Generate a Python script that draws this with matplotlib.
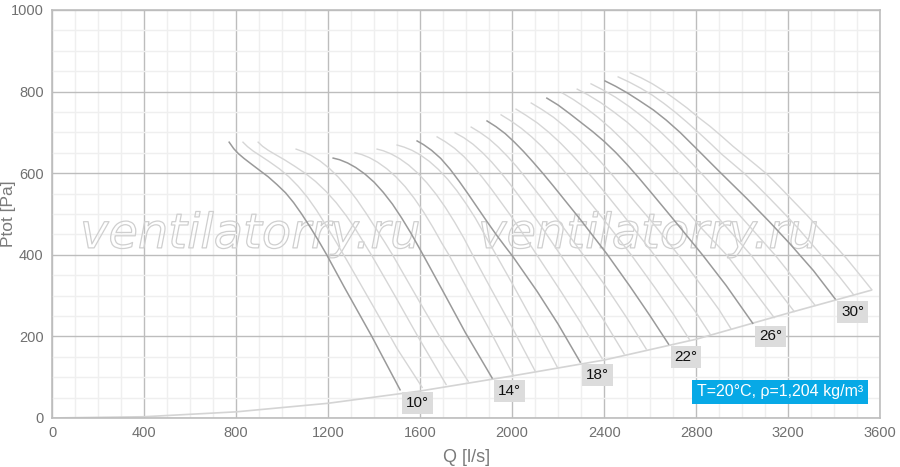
import matplotlib.pyplot as plt
import matplotlib.patheffects as pe
from matplotlib.ticker import MultipleLocator

plt.rcParams["font.family"] = ["Liberation Sans", "DejaVu Sans"]

# blade angle of each characteristic, in degrees
angles = list(range(10, 33))
labelled = [10, 14, 18, 22, 26, 30]

# one list per curve (Q in l/s, Ptot in Pa)
curve_q = [
    [770, 790, 810, 835, 865, 900, 940, 978, 1015, 1050, 1085, 1122, 1160, 1194, 1270, 1390, 1513],
    [830, 850, 875, 905, 945, 990, 1030, 1070, 1110, 1150, 1190, 1230, 1280, 1400, 1500, 1609],
    [896, 915, 940, 970, 1010, 1055, 1100, 1145, 1190, 1235, 1280, 1320, 1355, 1390, 1490, 1590, 1713],
    [1061, 1090, 1125, 1165, 1205, 1245, 1285, 1325, 1365, 1405, 1445, 1480, 1590, 1690, 1809],
    [1222, 1250, 1285, 1320, 1360, 1400, 1440, 1480, 1520, 1560, 1600, 1640, 1700, 1796, 1913],
    [1317, 1345, 1380, 1415, 1455, 1495, 1535, 1575, 1615, 1655, 1695, 1725, 1800, 1900, 2004],
    [1413, 1440, 1475, 1510, 1550, 1590, 1630, 1670, 1710, 1750, 1790, 1828, 1900, 2000, 2100],
    [1500, 1530, 1565, 1600, 1640, 1680, 1720, 1760, 1800, 1840, 1880, 1915, 2000, 2100, 2196],
    [1587, 1615, 1650, 1690, 1730, 1770, 1810, 1850, 1890, 1930, 1970, 2004, 2109, 2200, 2296],
    [1674, 1710, 1750, 1790, 1830, 1870, 1910, 1950, 1990, 2030, 2107, 2210, 2300, 2391],
    [1752, 1790, 1830, 1870, 1910, 1950, 1990, 2030, 2070, 2110, 2150, 2210, 2310, 2400, 2487],
    [1822, 1860, 1900, 1940, 1980, 2020, 2060, 2100, 2140, 2180, 2220, 2315, 2415, 2500, 2583],
    [1891, 1930, 1970, 2010, 2050, 2090, 2136, 2180, 2220, 2260, 2300, 2412, 2513, 2600, 2680],
    [1952, 1995, 2040, 2085, 2130, 2175, 2220, 2265, 2310, 2355, 2410, 2520, 2620, 2700, 2770],
    [2017, 2060, 2110, 2160, 2210, 2260, 2310, 2360, 2410, 2460, 2510, 2620, 2720, 2800, 2861],
    [2083, 2130, 2180, 2230, 2280, 2330, 2380, 2430, 2480, 2530, 2600, 2725, 2825, 2900, 2952],
    [2151, 2200, 2250, 2300, 2350, 2400, 2450, 2500, 2550, 2614, 2670, 2730, 2830, 2930, 3046],
    [2217, 2265, 2320, 2375, 2430, 2485, 2540, 2595, 2650, 2720, 2820, 2935, 3040, 3139],
    [2283, 2330, 2385, 2440, 2500, 2560, 2620, 2680, 2740, 2820, 2920, 3040, 3135, 3226],
    [2343, 2395, 2450, 2510, 2570, 2640, 2710, 2780, 2850, 2920, 3030, 3145, 3230, 3317],
    [2404, 2450, 2500, 2550, 2614, 2670, 2730, 2807, 2860, 2908, 3020, 3120, 3209, 3310, 3404],
    [2461, 2510, 2560, 2610, 2660, 2710, 2760, 2810, 2860, 2910, 2960, 3008, 3060, 3120, 3180,
     3240, 3300, 3350, 3420, 3483],
    [2513, 2560, 2610, 2658, 2710, 2760, 2807, 2860, 2910, 2960, 3010, 3060, 3107, 3160, 3220,
     3280, 3339, 3400, 3455, 3510, 3564],
]
curve_p = [
    [676, 660, 648, 636, 623, 608, 591, 572, 552, 528, 500, 468, 433, 400, 321, 200, 69],
    [676, 665, 654, 643, 628, 610, 591, 568, 541, 509, 473, 436, 388, 270, 170, 75],
    [676, 666, 656, 646, 633, 617, 600, 580, 556, 528, 495, 462, 430, 398, 300, 200, 82],
    [659, 653, 644, 630, 612, 590, 564, 535, 502, 467, 432, 400, 292, 195, 90],
    [637, 633, 625, 614, 598, 578, 553, 524, 490, 453, 413, 372, 310, 210, 98],
    [650, 646, 638, 627, 611, 591, 567, 538, 505, 468, 428, 400, 322, 218, 106],
    [659, 655, 647, 636, 620, 600, 576, 548, 516, 480, 441, 400, 325, 222, 115],
    [669, 664, 656, 645, 629, 609, 585, 557, 525, 490, 450, 415, 330, 227, 125],
    [679, 670, 656, 636, 610, 580, 548, 515, 482, 450, 420, 395, 310, 230, 137],
    [689, 677, 661, 641, 617, 590, 561, 530, 499, 466, 400, 312, 232, 146],
    [699, 687, 671, 651, 628, 602, 574, 544, 514, 483, 450, 400, 316, 238, 157],
    [713, 700, 684, 664, 641, 616, 588, 559, 530, 500, 469, 395, 316, 244, 169],
    [728, 714, 697, 676, 653, 628, 598, 568, 540, 512, 484, 402, 322, 250, 181],
    [743, 728, 710, 689, 665, 638, 609, 579, 548, 517, 478, 398, 320, 255, 193],
    [757, 742, 723, 700, 674, 645, 614, 582, 548, 513, 478, 398, 320, 258, 205],
    [772, 756, 737, 714, 689, 661, 631, 599, 566, 532, 486, 398, 323, 265, 218],
    [784, 767, 746, 724, 702, 678, 651, 621, 589, 546, 508, 467, 398, 325, 232],
    [797, 781, 760, 736, 709, 679, 647, 613, 579, 534, 467, 398, 320, 246],
    [806, 792, 773, 751, 725, 695, 662, 627, 590, 540, 475, 398, 328, 261],
    [819, 804, 786, 763, 737, 704, 666, 625, 583, 540, 471, 398, 338, 276],
    [826, 813, 797, 779, 755, 730, 700, 657, 627, 600, 538, 480, 426, 361, 292],
    [836, 823, 808, 791, 771, 749, 725, 700, 674, 647, 623, 600, 572, 538, 503,
     467, 428, 395, 348, 303],
    [846, 834, 819, 802, 781, 760, 738, 715, 691, 666, 643, 620, 598, 568, 533,
     498, 462, 425, 390, 352, 314],
]

# system (network) curve through the curve ends
system_q = [0, 400, 800, 1200, 1600, 2000, 2400, 2800, 3200, 3560]
system_p = [0, 3, 15, 36, 66, 103, 142, 193, 257, 313]

fig = plt.figure(figsize=(9, 4.67), dpi=100)
ax = fig.add_axes([0.0578, 0.105, 0.9202, 0.8736])

ax.set_xlim(0, 3600)
ax.set_ylim(0, 1000)
ax.xaxis.set_major_locator(MultipleLocator(400))
ax.xaxis.set_minor_locator(MultipleLocator(100))
ax.yaxis.set_major_locator(MultipleLocator(200))
ax.yaxis.set_minor_locator(MultipleLocator(50))
ax.grid(which="minor", color="#efefef", linewidth=1.0, zorder=0)
ax.grid(which="major", color="#bdbdbd", linewidth=1.0, zorder=0)
ax.set_axisbelow(True)
ax.tick_params(which="both", length=0, labelsize=10.5, colors="#707070", pad=6)
for spine in ax.spines.values():
    spine.set_color("#bdbdbd")
    spine.set_linewidth(1.2)

ax.set_xlabel("Q [l/s]", fontsize=13, color="#7a7a7a")
ax.set_ylabel("Ptot [Pa]", fontsize=12.5, color="#7a7a7a")
ax.xaxis.set_label_coords(0.5, -0.076)
ax.yaxis.set_label_coords(-0.044, 0.5)

for x in [250, 648]:
    ax.text(
        (x - 52) / 0.23, 450, "ventilatorry.ru",
        family="DejaVu Sans", style="italic", fontsize=34.5,
        ha="center", va="center", color="none",
        path_effects=[pe.Stroke(linewidth=0.9, foreground="#cfcfcf")],
        zorder=1,
    )

ax.plot(system_q, system_p, color="#d4d4d4", linewidth=1.2, zorder=2)

for angle, q, p in zip(angles, curve_q, curve_p):
    if angle in labelled:
        ax.plot(q, p, color="#9a9a9a", linewidth=1.1, zorder=4)
        ax.annotate(
            f"{angle}°", (q[-1], p[-1]), xytext=(12.6, -9.4),
            textcoords="offset points", ha="center", va="center",
            fontsize=11, color="#111111", zorder=6,
            bbox=dict(boxstyle="square,pad=0.25", fc="#dcdcdc", ec="none"),
        )
    else:
        ax.plot(q, p, color="#d6d6d6", linewidth=1.0, zorder=3)

ax.text(
    0.879, 0.064, "T=20°C, ρ=1,204 kg/m³", transform=ax.transAxes,
    ha="center", va="center", fontsize=11.5, color="white", zorder=7,
    bbox=dict(boxstyle="square,pad=0.3", fc="#07a9e6", ec="none"),
)

fig.savefig("out.png", dpi=100)
